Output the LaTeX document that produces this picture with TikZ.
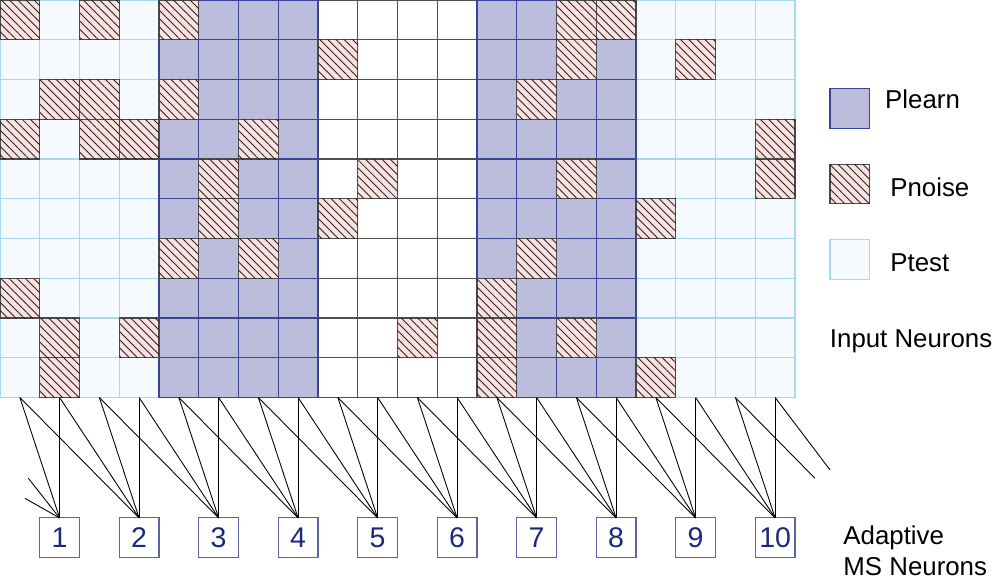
\documentclass[tikz,border=0pt]{standalone}
\usepackage{fontspec}
\setmainfont{Liberation Sans}
\usetikzlibrary{patterns.meta}
\definecolor{learnfill}{HTML}{BCBCDC}
\definecolor{learnline}{HTML}{3A4496}
\definecolor{testfill}{HTML}{F5FAFF}
\definecolor{testline}{HTML}{A6D9F2}
\definecolor{noisefill}{HTML}{FCE1E1}
\definecolor{noiseline}{HTML}{4A4A4A}
\definecolor{blankline}{HTML}{505050}
\definecolor{msline}{HTML}{5C64A8}
\definecolor{mstext}{HTML}{1C2878}

\begin{document}
\begin{tikzpicture}[x=0.795cm,y=-0.795cm,
  cell/.style={minimum size=0.795cm,inner sep=0pt,outer sep=0pt,line width=0.6pt},
  ptest/.style={cell,draw=testline,fill=testfill},
  plearn/.style={cell,draw=learnline,fill=learnfill},
  pblank/.style={cell,draw=blankline,fill=white},
  pnoise/.style={cell,draw=noiseline,fill=noisefill,
    postaction={pattern={Lines[angle=-45,distance=3.3pt,line width=0.5pt]},pattern color=black!85}},
  msneuron/.style={cell,draw=msline,fill=white,text=mstext,font=\fontsize{16.2}{19}\selectfont},
  legtext/.style={inner sep=0pt,anchor=base west,font=\fontsize{14.7}{17.6}\selectfont},
  synapse/.style={line width=0.5pt}]
   \useasboundingbox (0,0) rectangle (25.157,14.616);

   \foreach \r in {0,...,9} {
     \foreach \c in {0,...,3,16,17,18,19}
       \node[ptest] (c-\r-\c) at (\c+0.5,\r+0.5) {};
     \foreach \c in {8,...,11}
       \node[pblank] (c-\r-\c) at (\c+0.5,\r+0.5) {};
     \foreach \c in {4,...,7,12,13,14,15}
       \node[plearn] (c-\r-\c) at (\c+0.5,\r+0.5) {};
   }
   \foreach \r/\cols in {0/{0,2,4,14,15},1/{8,14,17},2/{1,2,4,13},3/{0,2,3,6,19},
       4/{5,9,14,19},5/{5,8,16},6/{4,6,13},7/{0,12},8/{1,3,10,12,14},9/{1,12,16}}
     \foreach \c in \cols
       \node[pnoise] (z-\r-\c) at (\c+0.5,\r+0.5) {};

   \foreach \k in {1,...,10}
     \node[msneuron] (n\k) at ({2*\k-0.5},13.53) {\k};

   \foreach \k in {1,...,10} {
     \pgfmathtruncatemacro\top{2*\k-1}
     \foreach \d in {0,...,3} {
       \pgfmathtruncatemacro\j{\top-\d}
       \ifnum\j>-1 \draw[synapse] (c-9-\j.south) -- (n\k.north); \fi
     }
   }
   \coordinate (wl1) at (0.712,12.03);
   \coordinate (wl2) at (0.629,12.536);
   \coordinate (wr1) at (20.50,12.03);
   \coordinate (wr2) at (20.88,11.82);
   \draw[synapse] (wl1) -- (n1.north);
   \draw[synapse] (wl2) -- (n1.north);
   \draw[synapse] (c-9-18.south) -- (wr1);
   \draw[synapse] (c-9-19.south) -- (wr2);

   \node[plearn] (keylearn) at (21.38,2.73) {};
   \node[pnoise] (keynoise) at (21.38,4.63) {};
   \node[ptest] (keytest) at (21.38,6.52) {};
   \node[legtext] (lablearn) at (22.26,2.725) {Plearn};
   \node[legtext] (labnoise) at (22.39,4.95) {Pnoise};
   \node[legtext] (labtest) at (22.39,6.83) {Ptest};
   \node[legtext] (labinput) at (20.87,8.74) {Input Neurons};
   \node[legtext,anchor=north west,align=left] (labms) at (21.21,13.22) {Adaptive\\MS Neurons};
\end{tikzpicture}
\end{document}
